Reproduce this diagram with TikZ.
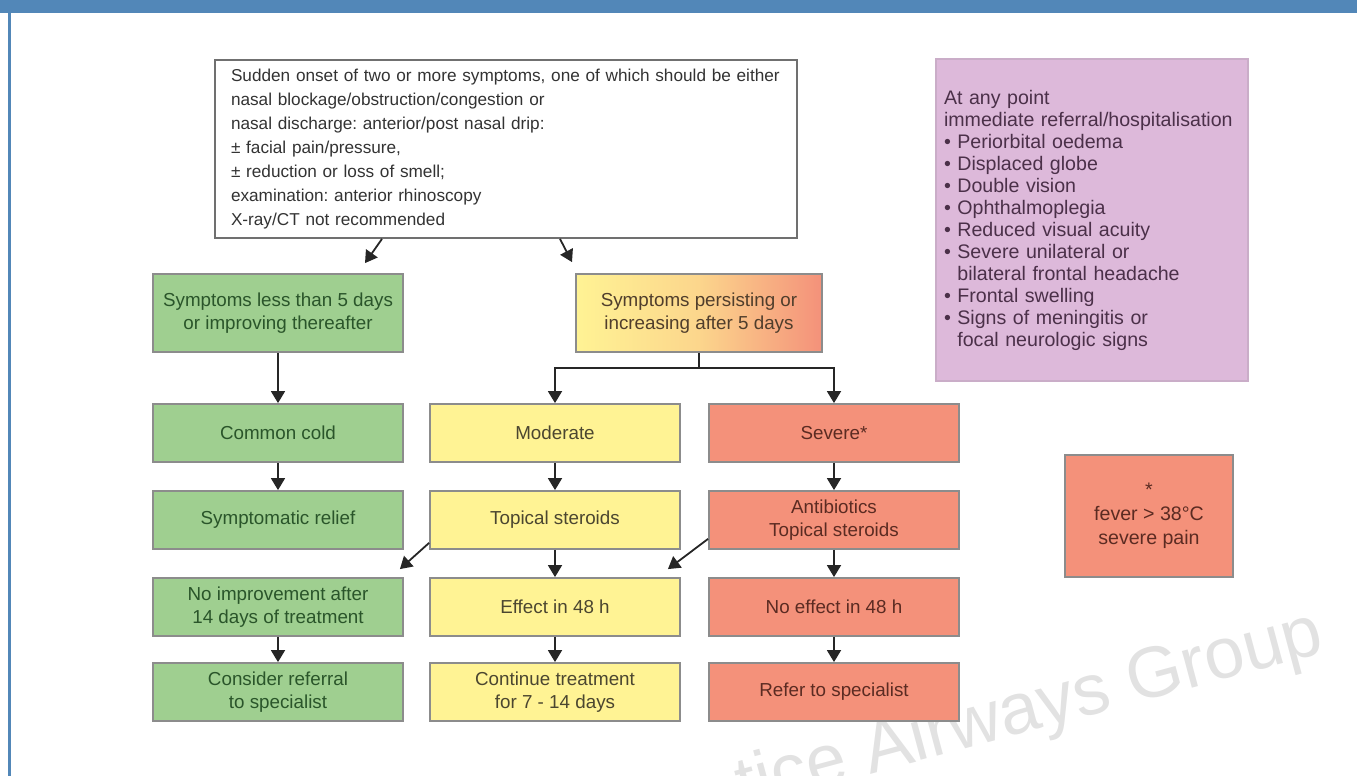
\documentclass[tikz,border=0pt]{standalone}
\usepackage{fontspec}
\setmainfont{Liberation Sans}
\frenchspacing
\usepackage{tikz}
\usetikzlibrary{arrows.meta}
\usetikzlibrary{positioning}

\definecolor{headblue}{HTML}{5287B8}
\definecolor{boxgray}{HTML}{8C8C8C}
\definecolor{arrowdark}{HTML}{262626}
\definecolor{coldgreen}{HTML}{9FCF90}
\definecolor{coldtext}{HTML}{2A552A}
\definecolor{modyellow}{HTML}{FFF394}
\definecolor{modtext}{HTML}{4B4630}
\definecolor{sevred}{HTML}{F4917A}
\definecolor{sevtext}{HTML}{5B2B22}
\definecolor{alarmpink}{HTML}{DDB9DA}
\definecolor{alarmtext}{HTML}{4B3049}
\definecolor{marktext}{HTML}{E2E2E2}

\newcommand{\bul}{\textbullet\ }
\newcommand{\hang}{\hphantom{\textbullet\ }}

\tikzset{
  box/.style={draw=boxgray, line width=0.9pt, minimum width=125pt, minimum height=29pt,
    align=center, inner sep=2pt, font=\fontsize{9.4}{11.5}\selectfont},
  greenbox/.style={box, fill=coldgreen, text=coldtext},
  yellowbox/.style={box, fill=modyellow, text=modtext},
  redbox/.style={box, fill=sevred, text=sevtext},
  fadebox/.style={box, left color=modyellow, right color=sevred, middle color=modyellow!70!sevred,
    text=modtext!70!sevtext, minimum width=123pt, minimum height=39pt},
  topbox/.style={draw=boxgray!80!black, line width=0.9pt, fill=white, text=black!80,
    text width=275pt, inner xsep=8pt, minimum height=89pt, align=left,
    font=\fontsize{8.6}{12}\selectfont},
  alarmbox/.style={draw=alarmpink!80!gray, line width=0.9pt, fill=alarmpink, text=alarmtext,
    text width=148pt, inner xsep=4pt, minimum height=161pt, align=left,
    font=\fontsize{9.8}{11}\selectfont},
  wmark/.style={text=marktext, font=\fontsize{36}{36}\selectfont},
  line/.style={draw=arrowdark, line width=0.9pt},
  arr/.style={line, -{Triangle[width=7pt,length=6pt]}}
}

\begin{document}
\begin{tikzpicture}[x=0.5pt, y=-0.5pt]
  \useasboundingbox (0,0) rectangle (1357,776);
  \fill[headblue] (0,0) rectangle (1357,13);
  \fill[headblue] (8,13) rectangle (11,776);

  \begin{scope}
    \clip (0,0) rectangle (1357,776);
    \node[wmark, rotate=15] (mark) at (1030,712) {tice Airways Group};
  \end{scope}

  \node[topbox] (onset) at (506,149) {Sudden onset of two or more symptoms, one of which should be either\\
    nasal blockage/obstruction/congestion or\\
    nasal discharge: anterior/post nasal drip:\\
    ± facial pain/pressure,\\
    ± reduction or loss of smell;\\
    examination: anterior rhinoscopy\\
    X-ray/CT not recommended};

  \node[greenbox, minimum height=39pt] (short) at (278,313) {Symptoms less than 5 days\\or improving thereafter};
  \node[fadebox] (persist) at (699,313) {Symptoms persisting or\\increasing after 5 days};

  \node[greenbox] (cold) at (278,433) {Common cold};
  \node[yellowbox] (moderate) at (555,433) {Moderate};
  \node[redbox] (severe) at (834,433) {Severe*};

  \node[greenbox] (relief) at (278,520) {Symptomatic relief};
  \node[yellowbox] (topical) at (555,520) {Topical steroids};
  \node[redbox] (antibio) at (834,520) {Antibiotics\\Topical steroids};

  \node[greenbox] (noimprove) at (278,607) {No improvement after\\14 days of treatment};
  \node[yellowbox] (effect) at (555,607) {Effect in 48 h};
  \node[redbox] (noeffect) at (834,607) {No effect in 48 h};

  \node[greenbox] (consider) at (278,692) {Consider referral\\to specialist};
  \node[yellowbox] (continue) at (555,692) {Continue treatment\\for 7 - 14 days};
  \node[redbox] (refer) at (834,692) {Refer to specialist};

  \node[alarmbox] (alarm) at (1092,220) {At any point\\
    immediate referral/hospitalisation\\
    \bul Periorbital oedema\\
    \bul Displaced globe\\
    \bul Double vision\\
    \bul Ophthalmoplegia\\
    \bul Reduced visual acuity\\
    \bul Severe unilateral or\\
    \hang bilateral frontal headache\\
    \bul Frontal swelling\\
    \bul Signs of meningitis or\\
    \hang focal neurologic signs};

  \node[redbox, minimum width=84pt, minimum height=61pt, font=\fontsize{9.8}{12}\selectfont] (fever) at (1149,516) {*\\fever > 38°C\\severe pain};

  \draw[arr] ([xshift=-62pt]onset.south) -- ([xshift=43.5pt, yshift=5pt]short.north);
  \draw[arr] ([xshift=27pt]onset.south) -- ([xshift=-63.5pt, yshift=5.5pt]persist.north);

  \draw[line] (persist.south) -- ++(0,15) coordinate (split);
  \draw[arr] (split) -| (moderate.north);
  \draw[arr] (split) -| (severe.north);

  \draw[arr] (short) -- (cold);
  \draw[arr] (cold) -- (relief);
  \draw[arr] (noimprove) -- (consider);

  \draw[arr] (moderate) -- (topical);
  \draw[arr] (topical) -- (effect);
  \draw[arr] (effect) -- (continue);

  \draw[arr] (severe) -- (antibio);
  \draw[arr] (antibio) -- (noeffect);
  \draw[arr] (noeffect) -- (refer);

  \draw[arr] ([yshift=3.5pt]topical.south west) -- ([xshift=-2pt, yshift=4pt]noimprove.north east);
  \draw[arr] ([yshift=5.5pt]antibio.south west) -- ([xshift=-6.5pt, yshift=4pt]effect.north east);
\end{tikzpicture}
\end{document}
